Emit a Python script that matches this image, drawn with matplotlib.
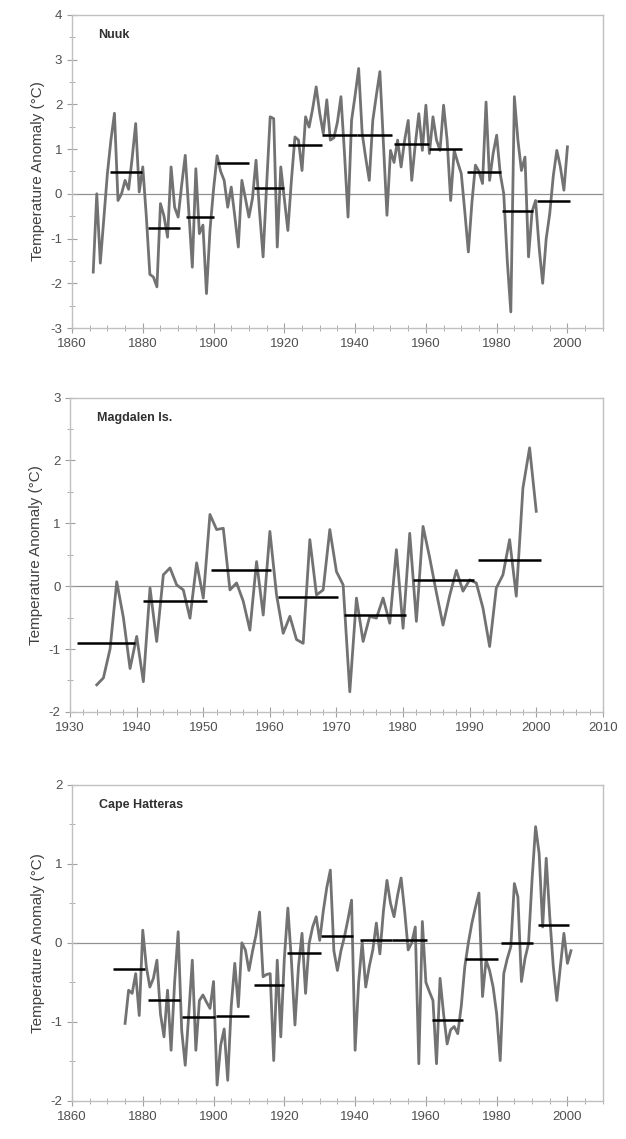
import matplotlib
matplotlib.use('Agg')
import matplotlib.pyplot as plt
from matplotlib.ticker import MultipleLocator

plt.rcParams['font.family'] = ['Liberation Sans', 'DejaVu Sans']
plt.rcParams['axes.unicode_minus'] = False

# Nuuk annual anomalies 1866-2000
nuuk_years = list(range(1866, 2001))
nuuk_vals = [
    -1.75, 0.0, -1.55, -0.55, 0.45, 1.2, 1.8, -0.15, 0.0, 0.3,
    0.1, 0.8, 1.57, 0.04, 0.6, -0.5, -1.8, -1.86, -2.08, -0.22,
    -0.5, -0.97, 0.6, -0.3, -0.52, 0.2, 0.86, -0.4, -1.64, 0.56,
    -0.89, -0.7, -2.23, -0.8, 0.1, 0.85, 0.5, 0.3, -0.3, 0.15,
    -0.5, -1.19, 0.3, -0.1, -0.52, -0.1, 0.75, -0.4, -1.41, 0.2,
    1.72, 1.68, -1.19, 0.6, -0.1, -0.82, 0.3, 1.27, 1.2, 0.52,
    1.72, 1.49, 1.9, 2.39, 1.8, 1.35, 2.1, 1.2, 1.25, 1.6,
    2.17, 0.9, -0.52, 1.64, 2.2, 2.8, 1.35, 0.8, 0.3, 1.64,
    2.2, 2.73, 1.1, -0.48, 0.97, 0.7, 1.2, 0.6, 1.2, 1.64,
    0.3, 1.1, 1.79, 0.97, 1.98, 0.9, 1.72, 1.2, 0.97, 1.98,
    1.2, -0.15, 0.97, 0.7, 0.45, -0.4, -1.3, -0.2, 0.64, 0.5,
    0.23, 2.05, 0.3, 0.9, 1.31, 0.45, 0.0, -1.5, -2.64, 2.17,
    1.2, 0.52, 0.82, -1.41, -0.4, -0.15, -1.2, -2.0, -1.0, -0.44,
    0.4, 0.97, 0.6, 0.08, 1.05,
]
nuuk_seg_start = [1870.6, 1881.5, 1892.3, 1901, 1911.3, 1921, 1930.6, 1940.5, 1951, 1961, 1971.5, 1981.5, 1991.4]
nuuk_seg_end = [1879.8, 1890.4, 1900.2, 1910, 1919.8, 1930.6, 1940.5, 1950.4, 1961, 1970.3, 1981.2, 1990.4, 2000.6]
nuuk_seg_val = [0.49, -0.77, -0.52, 0.69, 0.12, 1.08, 1.31, 1.31, 1.12, 1.01, 0.49, -0.38, -0.15]

# Magdalen Is. annual anomalies 1934-2000
mag_years = list(range(1934, 2001))
mag_vals = [
    -1.57, -1.46, -1.0, 0.07, -0.5, -1.31, -0.8, -1.52, -0.03, -0.88,
    0.18, 0.29, 0.02, -0.06, -0.51, 0.37, -0.19, 1.14, 0.9, 0.92,
    -0.06, 0.05, -0.24, -0.7, 0.39, -0.46, 0.87, -0.14, -0.75, -0.48,
    -0.85, -0.91, 0.74, -0.14, -0.06, 0.9, 0.23, 0.02, -1.68, -0.19,
    -0.88, -0.48, -0.51, -0.19, -0.59, 0.58, -0.67, 0.84, -0.56, 0.95,
    0.45, -0.1, -0.62, -0.15, 0.25, -0.08, 0.1, 0.05, -0.35, -0.96,
    -0.03, 0.18, 0.74, -0.16, 1.56, 2.2, 1.19,
]
mag_seg_start = [1931, 1941, 1951.2, 1961.2, 1971.2, 1981.5, 1991.2]
mag_seg_end = [1939.8, 1950.5, 1960.2, 1970.3, 1980.4, 1990.7, 2000.7]
mag_seg_val = [-0.91, -0.24, 0.26, -0.18, -0.46, 0.1, 0.42]

# Cape Hatteras annual anomalies 1875-2001
hat_years = list(range(1875, 2002))
hat_vals = [
    -1.02, -0.6, -0.64, -0.39, -0.92, 0.16, -0.3, -0.56, -0.45, -0.22,
    -0.9, -1.19, -0.6, -1.36, -0.5, 0.14, -1.11, -1.55, -0.9, -0.22,
    -1.36, -0.73, -0.66, -0.75, -0.83, -0.49, -1.8, -1.3, -1.09, -1.74,
    -0.8, -0.26, -0.81, 0.0, -0.09, -0.35, -0.11, 0.1, 0.39, -0.43,
    -0.4, -0.39, -1.49, -0.22, -1.19, -0.2, 0.44, -0.22, -1.04, -0.3,
    0.12, -0.64, -0.01, 0.2, 0.33, 0.03, 0.4, 0.7, 0.92, -0.1,
    -0.35, -0.1, 0.08, 0.3, 0.54, -1.36, -0.5, 0.01, -0.56, -0.3,
    -0.09, 0.25, -0.14, 0.4, 0.79, 0.5, 0.33, 0.6, 0.82, 0.4,
    -0.09, 0.0, 0.2, -1.53, 0.27, -0.5, -0.62, -0.73, -1.53, -0.45,
    -0.9, -1.28, -1.1, -1.06, -1.15, -0.8, -0.3, 0.0, 0.25, 0.45,
    0.63, -0.68, -0.22, -0.35, -0.56, -0.9, -1.49, -0.39, -0.2, -0.05,
    0.75, 0.58, -0.49, -0.2, -0.01, 0.8, 1.47, 1.13, 0.2, 1.07,
    0.33, -0.3, -0.73, -0.3, 0.12, -0.26, -0.1,
]
hat_seg_start = [1871.5, 1881.4, 1891.1, 1900.8, 1911.3, 1920.7, 1930.5, 1941.5, 1950.5, 1961.7, 1971, 1981.3, 1991.6]
hat_seg_end = [1880.5, 1890.6, 1900.4, 1910, 1920, 1930.5, 1939.5, 1950.5, 1960.3, 1970.6, 1980.4, 1990.4, 2000.3]
hat_seg_val = [-0.33, -0.73, -0.94, -0.92, -0.54, -0.13, 0.08, 0.03, 0.03, -0.98, -0.21, 0.0, 0.22]

panels = [
    ('Nuuk', nuuk_years, nuuk_vals, nuuk_seg_start, nuuk_seg_end, nuuk_seg_val,
     (1860, 2010), (-3, 4), 20, 5, [0.115, 0.712, 0.848, 0.275]),
    ('Magdalen Is.', mag_years, mag_vals, mag_seg_start, mag_seg_end, mag_seg_val,
     (1930, 2010), (-2, 3), 10, 2, [0.112, 0.375, 0.851, 0.276]),
    ('Cape Hatteras', hat_years, hat_vals, hat_seg_start, hat_seg_end, hat_seg_val,
     (1860, 2010), (-2, 2), 20, 5, [0.115, 0.0335, 0.848, 0.2775]),
]

fig = plt.figure(figsize=(6.26, 11.39), dpi=100)

for name, yrs, vals, s0, s1, sv, xl, yl, xmaj, xmin, pos in panels:
    ax = fig.add_axes(pos)
    ax.axhline(0, color='#909090', lw=0.9, zorder=1)
    ax.plot(yrs, vals, color='#727272', lw=2.0, zorder=2)
    ax.hlines(sv, s0, s1, colors='black', lw=1.8, zorder=3)
    ax.set_xlim(*xl)
    ax.set_ylim(*yl)
    ax.xaxis.set_major_locator(MultipleLocator(xmaj))
    ax.xaxis.set_minor_locator(MultipleLocator(xmin))
    ax.yaxis.set_major_locator(MultipleLocator(1))
    ax.yaxis.set_minor_locator(MultipleLocator(0.5))
    ax.tick_params(which='both', direction='inout', color='#a0a0a0',
                   labelcolor='#505050', labelsize=9.5)
    ax.tick_params(which='major', length=7)
    ax.tick_params(which='minor', length=5)
    for sp in ax.spines.values():
        sp.set_color('#c0c0c0')
        sp.set_linewidth(1.0)
    ax.set_ylabel('Temperature Anomaly (°C)', fontsize=11, color='#404040', labelpad=4)
    ax.text(0.05, 0.925, name, transform=ax.transAxes, fontsize=9,
            fontweight='bold', color='#303030')

fig.savefig('out.png', dpi=100)
